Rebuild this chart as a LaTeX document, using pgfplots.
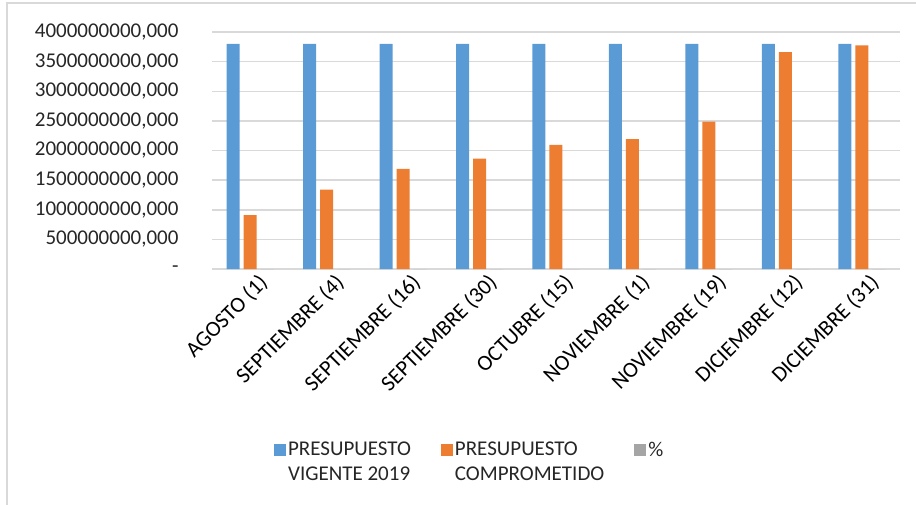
\documentclass[border=0pt]{standalone}
\usepackage{fontspec}
\setmainfont{Carlito}
\usepackage{pgfplots}
\pgfplotsset{compat=1.18}
\definecolor{cblue}{HTML}{5B9BD5}
\definecolor{corange}{HTML}{ED7D31}
\definecolor{cgray}{HTML}{A5A5A5}
\definecolor{cgrid}{HTML}{D9D9D9}
\definecolor{ctext}{HTML}{262626}
\begin{document}
\begin{tikzpicture}
\path[use as bounding box] (0,0) rectangle (916pt,504pt);
\draw[cgrid, line width=1.5pt] (7pt,-10pt) -- (7pt,501pt) -- (930pt,501pt);
\begin{axis}[
    at={(212pt,235pt)}, anchor=south west,
    scale only axis,
    width=688pt, height=237pt,
    ybar=4pt, bar width=13pt,
    font=\fontsize{21}{25}\selectfont\color{ctext},
    xmin=-0.5, xmax=8.5,
    ymin=0, ymax=4000000000,
    xtick={0,...,8},
    xticklabels={AGOSTO (1), SEPTIEMBRE (4), SEPTIEMBRE (16), SEPTIEMBRE (30), OCTUBRE (15), NOVIEMBRE (1), NOVIEMBRE (19), DICIEMBRE (12), DICIEMBRE (31)},
    ytick={0,500000000,...,4000000000},
    yticklabels={{-\hspace{10pt}}, {500000000,000}, {1000000000,000}, {1500000000,000}, {2000000000,000}, {2500000000,000}, {3000000000,000}, {3500000000,000}, {4000000000,000}},
    scaled y ticks=false,
    yticklabel style={anchor=east, xshift=-30pt},
    xticklabel style={rotate=45, anchor=north east, xshift=6pt, yshift=-4pt,
        font=\fontsize{22}{26}\selectfont},
    major tick length=0pt,
    ymajorgrids, grid style={cgrid, line width=1.5pt},
    axis x line*=bottom, axis y line*=left,
    x axis line style={cgrid, line width=1.5pt, -},
    y axis line style={draw=none},
    legend columns=3,
    legend style={draw=none, at={(0.09,-0.72)}, anchor=north west,
        /tikz/every even column/.append style={column sep=28pt},
        cells={anchor=west, align=left}, inner sep=0pt},
    legend image code/.code={\fill[#1] (0pt,6.5pt) rectangle (12pt,18.5pt);},
]
\addplot[fill=cblue, draw=none] coordinates {
    (0,3800000000) (1,3800000000) (2,3800000000) (3,3800000000) (4,3800000000)
    (5,3800000000) (6,3800000000) (7,3800000000) (8,3800000000)};
\addlegendentry{PRESUPUESTO\\VIGENTE 2019}
\addplot[fill=corange, draw=none] coordinates {
    (0,911000000) (1,1338000000) (2,1690000000) (3,1865000000) (4,2096000000)
    (5,2190000000) (6,2486000000) (7,3660000000) (8,3775000000)};
\addlegendentry{PRESUPUESTO\\COMPROMETIDO}
\addplot[fill=cgray, draw=none] coordinates {
    (0,24) (1,35) (2,44) (3,49) (4,55) (5,58) (6,65) (7,96) (8,99)};
\addlegendentry{\%\\\mbox{}}
\end{axis}
\end{tikzpicture}
\end{document}
